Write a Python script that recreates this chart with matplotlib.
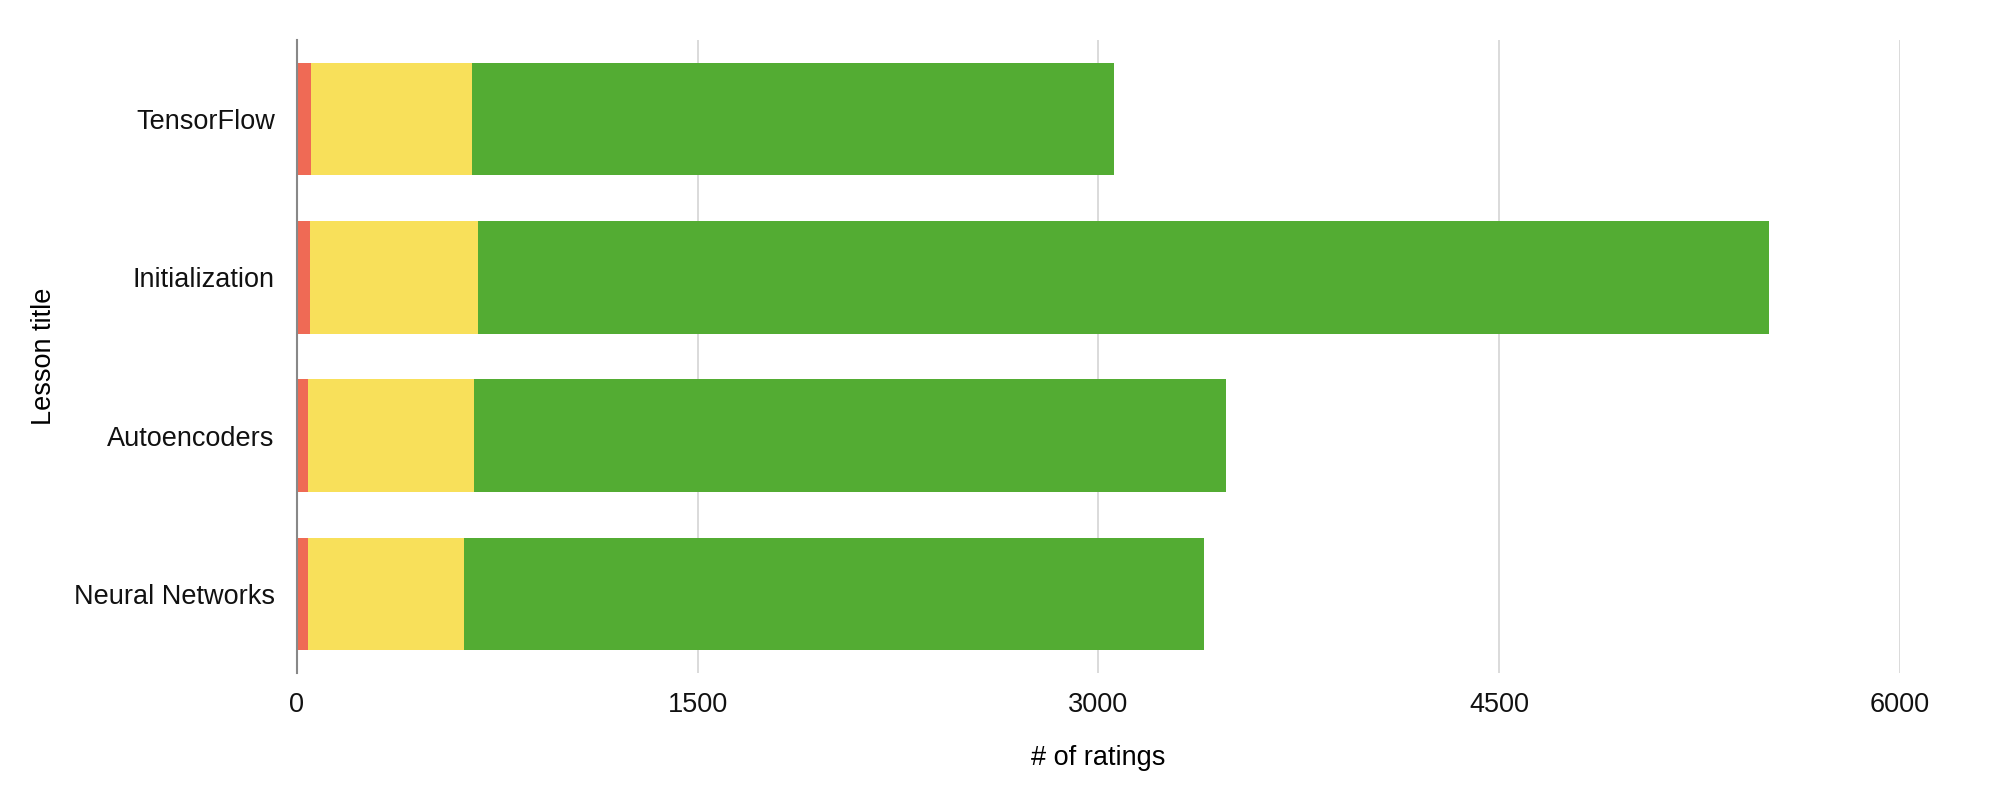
import numpy as np
import matplotlib.pyplot as plt

plt.rcParams['font.family'] = ['Liberation Sans', 'DejaVu Sans']

# lessons listed bottom to top
lessons = ['Neural Networks', 'Autoencoders', 'Initialization', 'TensorFlow']
low = [40, 40, 48, 51]
mid = [585, 624, 630, 604]
high = [2771, 2814, 4831, 2404]

colors = ['#EF6A55', '#F8E05A', '#53AC33']

fig = plt.figure(figsize=(19.99, 7.97), dpi=100)
ax = fig.add_axes([297 / 1999, 1 - 673 / 797, (1900 - 297) / 1999, (673 - 40) / 797])

y = np.arange(len(lessons))
left = np.zeros(len(lessons))
for vals, c in zip([low, mid, high], colors):
    ax.barh(y, vals, left=left, height=0.71, color=c, zorder=3)
    left += np.array(vals)

ax.set_xlim(0, 6000)
ax.set_ylim(-0.5, len(lessons) - 0.5)
ax.set_xticks([0, 1500, 3000, 4500, 6000])
ax.set_yticks(y)
ax.set_yticklabels(lessons)
ax.grid(axis='x', color='#d4d4d4', linewidth=1.2, zorder=0)
ax.tick_params(axis='both', length=0, labelsize=19.5, colors='#111111')
ax.tick_params(axis='x', pad=14)
ax.tick_params(axis='y', pad=16)

for s in ['top', 'right', 'bottom']:
    ax.spines[s].set_visible(False)
ax.spines['left'].set_color('#888888')
ax.spines['left'].set_linewidth(1.5)
ax.spines['left'].set_zorder(4)

ax.set_xlabel('# of ratings', fontsize=19.5, labelpad=19)
ax.set_ylabel('Lesson title', fontsize=19.5)
ax.yaxis.set_label_coords(-0.1496, 0.5)

fig.savefig('out.png', dpi=100)
